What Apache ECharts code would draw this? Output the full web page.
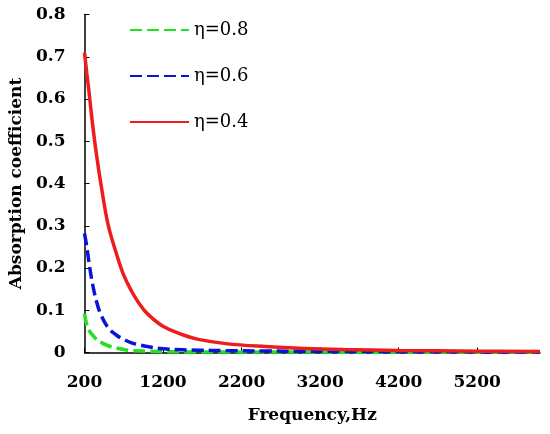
<!DOCTYPE html>
<html>
<head>
<meta charset="utf-8">
<script src="https://cdn.jsdelivr.net/npm/echarts@6/dist/echarts.min.js"></script>
<style>
html,body{margin:0;padding:0;background:#fff;}
#chart{width:550px;height:434px;}
</style>
</head>
<body>
<div id="chart"></div>
<script>
var freq = [200, 230, 260, 300, 350, 410, 500, 600, 700, 800, 900, 1000, 1200, 1450, 1650, 2000, 2500, 3000, 3500, 4200, 5200, 6000];
var eta08 = [0.092, 0.065, 0.052, 0.042, 0.032, 0.024, 0.016, 0.011, 0.007, 0.0045, 0.0037, 0.003, 0.002, 0.0015, 0.0012, 0.001, 0.001, 0.001, 0.0008, 0.0008, 0.0005, 0.0005];
var eta06 = [0.282, 0.25, 0.21, 0.165, 0.123, 0.089, 0.059, 0.042, 0.031, 0.023, 0.018, 0.014, 0.009, 0.0065, 0.0055, 0.0045, 0.0035, 0.003, 0.0025, 0.002, 0.0015, 0.001];
var eta04 = [0.71, 0.66, 0.613, 0.545, 0.472, 0.398, 0.303, 0.238, 0.183, 0.145, 0.115, 0.092, 0.062, 0.042, 0.031, 0.021, 0.014, 0.0095, 0.007, 0.005, 0.003, 0.0025];
var xTicks = [200, 1200, 2200, 3200, 4200, 5200];
var seriesNames = ['η=0.8', 'η=0.6', 'η=0.4'];

function pairs(vals) { return freq.map(function (f, i) { return [f, vals[i]]; }); }

var chart = echarts.init(document.getElementById('chart'));
var serif = 'DejaVu Serif';
var boldText = { fontFamily: serif, fontWeight: 'bold', fontSize: 17, color: '#000' };
chart.setOption({
  animation: false,
  grid: { left: 82, right: 10, top: 14.5, bottom: 81.5 },
  legend: {
    orient: 'vertical',
    left: 129,
    top: 20,
    padding: 0,
    itemWidth: 59,
    itemHeight: 20,
    itemGap: 26,
    itemStyle: { opacity: 0 },
    textStyle: { fontFamily: serif, fontSize: 18, color: '#000', lineHeight: 20 },
    data: seriesNames
  },
  xAxis: {
    type: 'value',
    min: 200,
    max: 6000,
    splitLine: { show: false },
    axisLine: { lineStyle: { color: '#000', width: 1.5 } },
    axisTick: { inside: true, length: 5, customValues: xTicks, lineStyle: { color: '#000' } },
    axisLabel: Object.assign({ customValues: xTicks, margin: 22, formatter: function (v) { return String(v); } }, boldText),
    name: 'Frequency,Hz',
    nameLocation: 'middle',
    nameGap: 55,
    nameTextStyle: boldText
  },
  yAxis: {
    type: 'value',
    min: 0,
    max: 0.8,
    interval: 0.1,
    splitLine: { show: false },
    axisLine: { show: true, lineStyle: { color: '#000', width: 1.5 } },
    axisTick: { show: true, inside: true, length: 5, lineStyle: { color: '#000' } },
    axisLabel: Object.assign({ margin: 19 }, boldText),
    name: 'Absorption coefficient',
    nameLocation: 'middle',
    nameGap: 53,
    nameTextStyle: boldText
  },
  series: [
    { name: seriesNames[0], type: 'line', data: pairs(eta08), showSymbol: false, symbol: 'none', smooth: 0.4,
      lineStyle: { color: '#22e022', width: 3.5, type: [12, 5] }, itemStyle: { color: '#22e022' } },
    { name: seriesNames[1], type: 'line', data: pairs(eta06), showSymbol: false, symbol: 'none', smooth: 0.4,
      lineStyle: { color: '#0a14d8', width: 3.5, type: [12, 5] }, itemStyle: { color: '#0a14d8' } },
    { name: seriesNames[2], type: 'line', data: pairs(eta04), showSymbol: false, symbol: 'none', smooth: 0.4,
      lineStyle: { color: '#ee1c1c', width: 3.5 }, itemStyle: { color: '#ee1c1c' } }
  ]
});
</script>
</body>
</html>
